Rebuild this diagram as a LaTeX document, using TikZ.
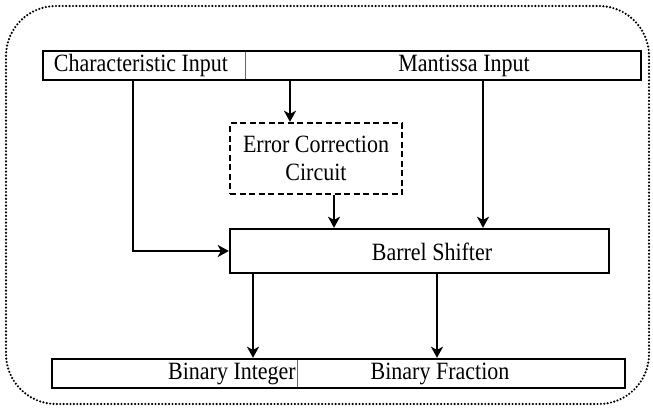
\documentclass[tikz,border=0pt]{standalone}
\usepackage{fontspec}
\setmainfont{Liberation Serif}
\newfontfamily\tnr{Liberation Serif}
\newcommand{\tx}[1]{\scalebox{1}[1.13]{#1}}
\usetikzlibrary{arrows.meta}
\begin{document}
\begin{tikzpicture}[x=1pt,y=-1pt,
  box/.style={draw,line width=2.4pt,inner sep=0pt,minimum width=#1},
  lbl/.style={inner sep=0pt,font=\tnr\fontsize{22}{25}\selectfont},
  arr/.style={line width=2.3pt,-{Stealth[length=11pt,width=12pt,inset=3pt]}},
  divider/.style={draw=black!60,line width=0.9pt},
  outer/.style={line width=2.4pt,line cap=round,dash pattern=on 0pt off 3.4pt,rounded corners=50pt}]
\useasboundingbox (0,0) rectangle (653,412);
\draw[outer] (6,6) rectangle (649,404);
% top bar
\node[box=598pt,minimum height=29pt] (topbar) at (342,65.5) {};
\draw[divider] (245,52) -- (245,79);
\node[lbl] (char) at (141,66) {\tx{Characteristic Input}};
\node[lbl] (mant) at (464,66) {\tx{Mantissa Input}};
% error correction
\node[lbl,draw,line width=2.4pt,dash pattern=on 6pt off 3.5pt,align=center,minimum width=172pt,minimum height=71pt] (err) at (316,158.5) {\tx{Error Correction}\\[3pt]\tx{Circuit}};
% barrel shifter
\node[box=379pt,minimum height=44pt] (barrel) at (419.5,251) {};
\node[lbl] (bstext) at (432,252) {\tx{Barrel Shifter}};
% bottom bar
\node[box=573pt,minimum height=29pt] (botbar) at (338.5,373.5) {};
\draw[divider] (297,360) -- (297,387);
\node[lbl,anchor=east] (bint) at (296,374) {\tx{Binary Integer}};
\node[lbl] (bfrac) at (440,374) {\tx{Binary Fraction}};
% x positions of connectors
\coordinate (xa) at (133,0);
\coordinate (xb) at (290,0);
\coordinate (xc) at (483,0);
\coordinate (xd) at (334,0);
\coordinate (xe) at (253,0);
\coordinate (xf) at (437,0);
% connectors
\draw[arr] (topbar.south -| xa) |- (barrel.west);
\draw[arr] (topbar.south -| xb) -- (err.north -| xb);
\draw[arr] (topbar.south -| xc) -- (barrel.north -| xc);
\draw[arr] (err.south -| xd) -- (barrel.north -| xd);
\draw[arr] (barrel.south -| xe) -- (botbar.north -| xe);
\draw[arr] (barrel.south -| xf) -- (botbar.north -| xf);
\end{tikzpicture}
\end{document}
